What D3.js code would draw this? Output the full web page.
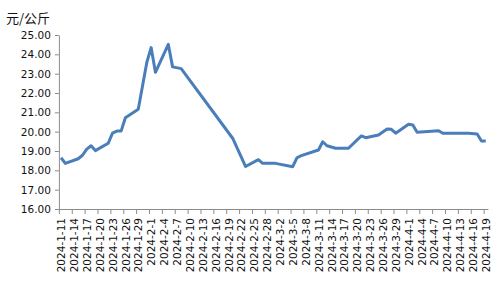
<!DOCTYPE html>
<html>
<head>
<meta charset="utf-8">
<script src="https://cdn.jsdelivr.net/npm/d3@7"></script>
<style>
  body { margin: 0; background: #fff; }
  .axis text { font-family: "DejaVu Sans", sans-serif; font-size: 10.5px; fill: #111; }
  .axis path, .axis line { stroke: #8c8c8c; }
</style>
</head>
<body>
<div class="graph"></div>
<script>
// price series, only weekdays with visible points
var dates = ["2024-01-11", "2024-01-12", "2024-01-15", "2024-01-16", "2024-01-17", "2024-01-18",
    "2024-01-19", "2024-01-22", "2024-01-23", "2024-01-24", "2024-01-25", "2024-01-26",
    "2024-01-29", "2024-01-31", "2024-02-01", "2024-02-02", "2024-02-05", "2024-02-06",
    "2024-02-08", "2024-02-20", "2024-02-23", "2024-02-26", "2024-02-27", "2024-03-01",
    "2024-03-05", "2024-03-06", "2024-03-07", "2024-03-11", "2024-03-12", "2024-03-13",
    "2024-03-15", "2024-03-18", "2024-03-21", "2024-03-22", "2024-03-25", "2024-03-27",
    "2024-03-28", "2024-03-29", "2024-04-01", "2024-04-02", "2024-04-03", "2024-04-08",
    "2024-04-09", "2024-04-15", "2024-04-17", "2024-04-18", "2024-04-19"];
var prices = [18.65, 18.36, 18.6, 18.78, 19.1, 19.27,
    19.02, 19.4, 19.92, 20.03, 20.03, 20.72,
    21.16, 23.59, 24.35, 23.07, 24.52, 23.35,
    23.26, 19.66, 18.2, 18.55, 18.36, 18.36,
    18.19, 18.65, 18.76, 19.05, 19.48, 19.27,
    19.14, 19.14, 19.78, 19.69, 19.83, 20.14,
    20.12, 19.92, 20.38, 20.35, 19.97, 20.05,
    19.92, 19.92, 19.88, 19.52, 19.52];
var tickLabels = ["2024-1-11", "2024-1-14", "2024-1-17", "2024-1-20", "2024-1-23", "2024-1-26",
    "2024-1-29", "2024-2-1", "2024-2-4", "2024-2-7", "2024-2-10", "2024-2-13", "2024-2-16",
    "2024-2-19", "2024-2-22", "2024-2-25", "2024-2-28", "2024-3-2", "2024-3-5", "2024-3-8",
    "2024-3-11", "2024-3-14", "2024-3-17", "2024-3-20", "2024-3-23", "2024-3-26", "2024-3-29",
    "2024-4-1", "2024-4-4", "2024-4-7", "2024-4-10", "2024-4-13", "2024-4-16", "2024-4-19"];
var yTicks = [16, 17, 18, 19, 20, 21, 22, 23, 24, 25];
var unitLabel = "元/公斤";

var parseTime = d3.timeParse("%Y-%m-%d");
var parseLabel = d3.timeParse("%Y-%-m-%-d");
var data = dates.map((d, i) => ({ date: parseTime(d), value: prices[i] }));
var halfDay = 12 * 3600 * 1000;

var width = 500, height = 300;
var margin = { top: 35, left: 58.9, right: 12.1, bottom: 91 };

var svg = d3.select(".graph").append("svg")
    .attr("width", width)
    .attr("height", height);

// each day is a slot, points sit in the middle of their slot
var first = parseLabel(tickLabels[0]), last = parseLabel(tickLabels[tickLabels.length - 1]);
var x = d3.scaleTime()
    .domain([new Date(+first - halfDay), new Date(+last + halfDay)])
    .range([margin.left, width - margin.right]);
var y = d3.scaleLinear()
    .domain([16, 25])
    .range([height - margin.bottom, margin.top]);

// y axis
svg.append("g")
    .attr("class", "axis")
    .attr("transform", `translate(${margin.left},0)`)
    .call(d3.axisLeft(y).tickValues(yTicks).tickFormat(d3.format(".2f")).tickSize(4).tickSizeOuter(0))
    .selectAll("text").attr("x", -8);

// x axis: tick marks at slot boundaries
var xTickDates = tickLabels.map(t => new Date(+parseLabel(t) - halfDay));
svg.append("g")
    .attr("class", "axis")
    .attr("transform", `translate(0,${y(16)})`)
    .call(d3.axisBottom(x).tickValues(xTickDates).tickFormat("").tickSize(5).tickSizeOuter(0));

// x labels centred on their day, rotated
svg.append("g")
    .attr("class", "axis")
    .attr("transform", `translate(0,${y(16)})`)
    .call(d3.axisBottom(x).tickValues(tickLabels.map(parseLabel)).tickFormat((d, i) => tickLabels[i]).tickSize(0))
    .call(g => g.select(".domain").remove())
    .selectAll("text")
    .attr("transform", "rotate(-90)")
    .attr("x", -9)
    .attr("y", 0)
    .attr("dy", "0.35em")
    .style("text-anchor", "end");

// unit label
svg.append("text")
    .attr("x", 6)
    .attr("y", 22.5)
    .style("font-family", "'Noto Sans CJK SC', sans-serif")
    .style("font-size", "13px")
    .style("fill", "#111")
    .text(unitLabel);

// the line
var valueLine = d3.line()
    .x(d => x(d.date))
    .y(d => y(d.value));
svg.append("path")
    .datum(data)
    .attr("fill", "none")
    .attr("stroke", "#4a7ebb")
    .attr("stroke-width", 3)
    .attr("stroke-linejoin", "round")
    .attr("d", valueLine);
</script>
</body>
</html>
